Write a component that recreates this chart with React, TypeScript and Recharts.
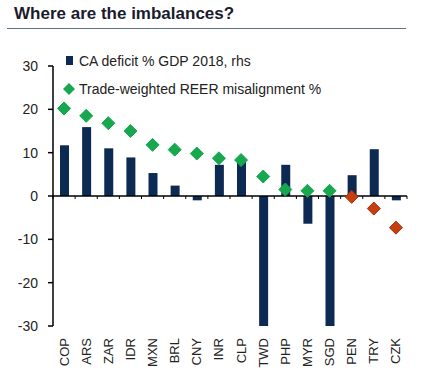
import { ComposedChart, Bar, Scatter, XAxis, YAxis, ReferenceLine, Legend } from 'recharts'

const currencies = ['COP', 'ARS', 'ZAR', 'IDR', 'MXN', 'BRL', 'CNY', 'INR', 'CLP', 'TWD', 'PHP', 'MYR', 'SGD', 'PEN', 'TRY', 'CZK']
const caDeficit = [11.7, 15.9, 11.0, 8.9, 5.3, 2.4, -1.0, 7.2, 8.5, -30, 7.2, -6.4, -30, 4.8, 10.8, -1.0]
const reerMisalignment = [20.2, 18.5, 16.8, 15.0, 11.8, 10.7, 9.8, 8.7, 8.3, 4.5, 1.5, 1.2, 1.2, -0.2, -2.9, -7.3]
const yTicks = [-30, -20, -10, 0, 10, 20, 30]

const NAVY = '#0d2a52'
const GREEN = '#17a84f'
const RED = '#c63f0f'
const FONT = '"Liberation Sans", Arial, sans-serif'

const data = currencies.map((ccy, i) => ({ ccy, ca: caDeficit[i], reer: reerMisalignment[i] }))

function CurrencyTick({ x, y, payload }: any) {
  return (
    <text
      x={x}
      y={y}
      transform={`rotate(-90 ${x} ${y})`}
      textAnchor="end"
      dy="0.35em"
      fontSize={13}
      fill="#222"
      fontFamily={FONT}
    >
      {payload.value}
    </text>
  )
}

function Diamond({ cx, cy, payload }: any) {
  const r = 6.5
  const neg = payload.reer < 0
  return (
    <polygon
      points={`${cx},${cy - r} ${cx + r},${cy} ${cx},${cy + r} ${cx - r},${cy}`}
      fill={neg ? RED : GREEN}
      stroke={neg ? '#a0300a' : GREEN}
      strokeWidth={1}
    />
  )
}

function LegendBox() {
  const row = { display: 'flex', alignItems: 'center', height: 28 }
  return (
    <div style={{ fontFamily: FONT, fontSize: 14, color: '#222' }}>
      <div style={row}>
        <svg width={16} height={12}>
          <rect x={3} y={1} width={7} height={9} fill={NAVY} />
        </svg>
        <span>CA deficit % GDP 2018, rhs</span>
      </div>
      <div style={row}>
        <svg width={16} height={12}>
          <polygon points="6,0 12,6 6,12 0,6" fill={GREEN} />
        </svg>
        <span>Trade-weighted REER misalignment %</span>
      </div>
    </div>
  )
}

export default function App() {
  return (
    <div style={{ position: 'absolute', left: 0, top: 0, width: 424, height: 380, background: '#fff' }}>
      <div
        style={{
          position: 'absolute',
          left: 14,
          top: 5,
          fontFamily: FONT,
          fontWeight: 'bold',
          fontSize: 17,
          lineHeight: 1,
          color: '#1a1c2c',
          whiteSpace: 'nowrap',
        }}
      >
        Where are the imbalances?
      </div>
      <div style={{ position: 'absolute', left: 7, top: 28, width: 399, height: 1, background: '#5f7384' }} />
      <ComposedChart
        width={424}
        height={380}
        data={data}
        margin={{ top: 66, right: 17, left: 0, bottom: 0 }}
        barSize={9}
      >
        <XAxis
          dataKey="ccy"
          height={54}
          axisLine={false}
          tickLine={false}
          tickSize={0}
          tickMargin={12}
          interval={0}
          tick={<CurrencyTick />}
        />
        <YAxis
          width={53}
          domain={[-30, 30]}
          ticks={yTicks}
          allowDataOverflow
          axisLine={{ stroke: '#000', strokeWidth: 1.5 }}
          tickLine={{ stroke: '#000', strokeWidth: 1.5 }}
          tickSize={5}
          tickMargin={10}
          tick={{ fontSize: 14, fill: '#222', fontFamily: FONT }}
        />
        <Legend
          layout="vertical"
          align="center"
          verticalAlign="middle"
          content={<LegendBox />}
          wrapperStyle={{ left: 63, top: 47, width: 'auto', height: 'auto' }}
        />
        <Bar dataKey="ca" fill={NAVY} isAnimationActive={false} />
        <ReferenceLine y={0} stroke="#000" strokeWidth={1.5} />
        {currencies.map((ccy) => (
          <ReferenceLine
            key={ccy}
            segment={[{ x: ccy, y: 0 }, { x: ccy, y: -0.7 }]}
            position="start"
            stroke="#000"
            strokeWidth={1}
          />
        ))}
        <ReferenceLine
          segment={[{ x: 'CZK', y: 0 }, { x: 'CZK', y: -0.7 }]}
          position="end"
          stroke="#000"
          strokeWidth={1}
        />
        <Scatter dataKey="reer" shape={<Diamond />} isAnimationActive={false} />
      </ComposedChart>
    </div>
  )
}
